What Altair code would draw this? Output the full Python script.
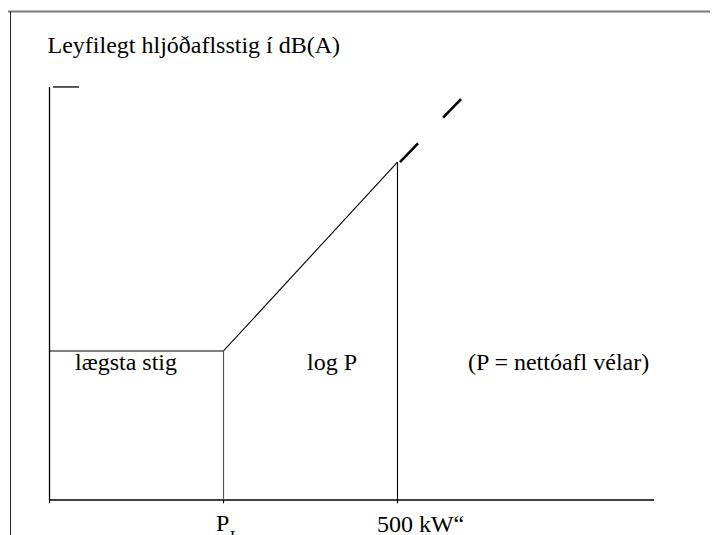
import altair as alt
import pandas as pd

# Coordinate frame (data units): origin of the diagram at (0, 0),
# P_L at x = 1, 500 kW at x = 2; lowest permitted level at y = 1.
X_DOMAIN = [-0.2385, 3.796]
Y_DOMAIN = [-0.235, 3.302]

# Power break points and permitted levels
p_labels = ["P", "500 kW\u201c"]
p_values = [1.0, 2.0]
level_low = 1.0
level_500 = 2.268

# Curve: flat section then log-P section
curve_x = [0.0, 1.0]
curve_x2 = [1.0, 2.0]
curve_y = [level_low, level_low]
curve_y2 = [level_low, level_500]

# Dashed continuation beyond 500 kW
dash_x = [2.014]
dash_x2 = [2.365]
dash_y = [2.268]
dash_y2 = [2.691]

# Axes
axis_x = [0.0, 0.0, 0.02]
axis_x2 = [3.474, 0.0, 0.17]
axis_y = [0.0, 0.0, 2.772]
axis_y2 = [0.0, 2.772, 2.772]
tick_x = [0.0, 1.0, 2.0]

# Frame
frame_top = 3.279
frame_left = -0.224

# Texts
region_texts = ["l\u00e6gsta stig", "log P", "(P = nett\u00f3afl v\u00e9lar)"]
region_x = [0.1466, 1.4799, 2.405]
region_y = [0.8725, 0.8725, 0.8725]
title_text = ["Leyfilegt hlj\u00f3\u00f0aflsstig \u00ed dB(A)"]
title_x = [-0.0115]
title_y = [2.998]
tick_label_x = [0.957, 1.882]
tick_label_y = [-0.208, -0.215]
sub_text = ["L"]
sub_x = [1.037]
sub_y = [-0.284]

FONT = "Liberation Serif"
xs = alt.Scale(domain=X_DOMAIN, nice=False, zero=False)
ys = alt.Scale(domain=Y_DOMAIN, nice=False, zero=False)


def seg_df(x, x2, y, y2):
    return pd.DataFrame({"x": x, "x2": x2, "y": y, "y2": y2})


def rules(df, **mark):
    return alt.Chart(df).mark_rule(**mark).encode(
        x=alt.X("x:Q", scale=xs, axis=None),
        x2="x2:Q",
        y=alt.Y("y:Q", scale=ys, axis=None),
        y2="y2:Q",
    )


def texts(labels, x, y, size=24):
    df = pd.DataFrame({"t": labels, "x": x, "y": y})
    return alt.Chart(df).mark_text(
        font=FONT, fontSize=size, align="left", baseline="alphabetic", color="black"
    ).encode(
        x=alt.X("x:Q", scale=xs, axis=None),
        y=alt.Y("y:Q", scale=ys, axis=None),
        text="t:N",
    )


frame_top_layer = rules(
    seg_df([X_DOMAIN[0]], [X_DOMAIN[1]], [frame_top], [frame_top]),
    color="#7a7a7a", strokeWidth=2,
)
frame_left_layer = rules(
    seg_df([frame_left], [frame_left], [Y_DOMAIN[0]], [frame_top]),
    color="#222222", strokeWidth=1,
)
axes_layer = rules(seg_df(axis_x, axis_x2, axis_y, axis_y2), color="black", strokeWidth=1.3)
ticks_layer = rules(
    seg_df(tick_x, tick_x, [0.0] * 3, [-0.022] * 3), color="black", strokeWidth=1.2
)
curve_layer = rules(seg_df(curve_x, curve_x2, curve_y, curve_y2), color="black", strokeWidth=1.1)
vert_pl = rules(
    seg_df([p_values[0]], [p_values[0]], [0.0], [level_low]), color="#555555", strokeWidth=1.2
)
vert_500 = rules(
    seg_df([p_values[1]], [p_values[1]], [0.0], [level_500]), color="black", strokeWidth=1.1
)
dash_layer = rules(
    seg_df(dash_x, dash_x2, dash_y, dash_y2),
    color="black", strokeWidth=2.6, strokeDash=[26, 36], strokeCap="butt",
)

chart = alt.layer(
    frame_top_layer,
    frame_left_layer,
    axes_layer,
    ticks_layer,
    curve_layer,
    vert_pl,
    vert_500,
    dash_layer,
    texts(title_text, title_x, title_y),
    texts(region_texts, region_x, region_y),
    texts(p_labels, tick_label_x, tick_label_y),
    texts(sub_text, sub_x, sub_y, size=16),
).properties(
    width=702,
    height=527,
    padding=0,
    autosize=alt.AutoSizeParams(type="none"),
    background="white",
).configure_view(stroke=None)

chart.save("out.html", embed_options={"renderer": "svg", "actions": False})
